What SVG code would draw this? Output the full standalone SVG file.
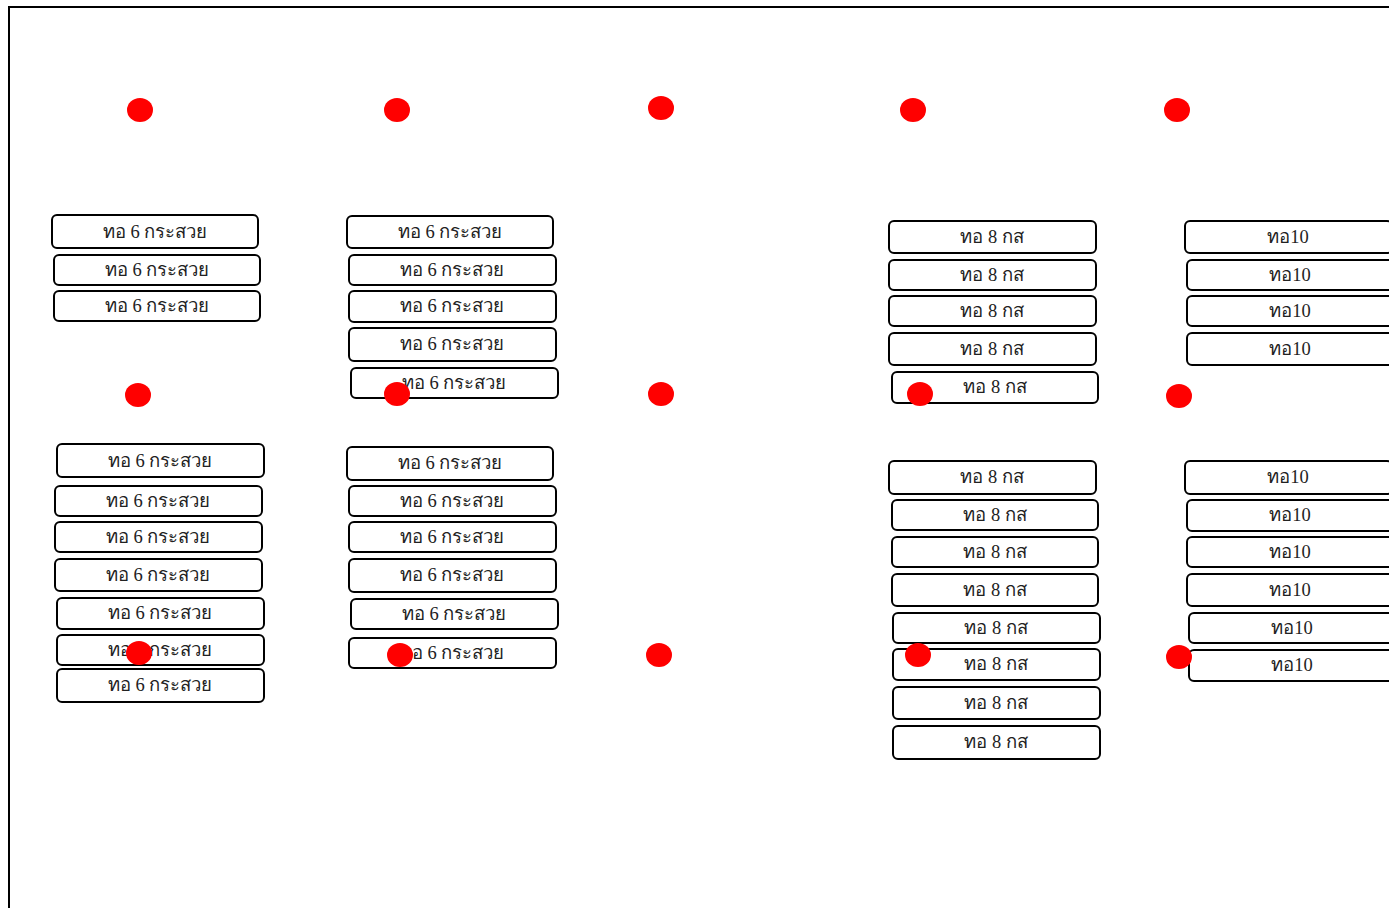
<svg xmlns="http://www.w3.org/2000/svg" width="1389" height="908" viewBox="0 0 1389 908">
<style>
.b rect{fill:#fff;stroke:#000;stroke-width:2}
.b text{font-family:"Liberation Serif","DejaVu Serif",serif;font-size:18.5px;fill:#222;text-anchor:middle;dominant-baseline:central}
.d{fill:#ff0000}
</style>
<rect x="0" y="0" width="1389" height="908" fill="#fff"/>
<path d="M9 908 V7 H1389" fill="none" stroke="#000" stroke-width="2"/>
<g id="col1">
<g class="b" id="n1"><rect x="52" y="215" width="206" height="33" rx="5"/><text x="155" y="232">ทอ 6 กระสวย</text></g>
<g class="b" id="n2"><rect x="54" y="255" width="206" height="30" rx="5"/><text x="157" y="270">ทอ 6 กระสวย</text></g>
<g class="b" id="n3"><rect x="54" y="291" width="206" height="30" rx="5"/><text x="157" y="306">ทอ 6 กระสวย</text></g>
<g class="b" id="n4"><rect x="57" y="444" width="207" height="33" rx="5"/><text x="160" y="461">ทอ 6 กระสวย</text></g>
<g class="b" id="n5"><rect x="55" y="486" width="207" height="30" rx="5"/><text x="158" y="501">ทอ 6 กระสวย</text></g>
<g class="b" id="n6"><rect x="55" y="522" width="207" height="30" rx="5"/><text x="158" y="537">ทอ 6 กระสวย</text></g>
<g class="b" id="n7"><rect x="55" y="559" width="207" height="32" rx="5"/><text x="158" y="575">ทอ 6 กระสวย</text></g>
<g class="b" id="n8"><rect x="57" y="598" width="207" height="31" rx="5"/><text x="160" y="613">ทอ 6 กระสวย</text></g>
<g class="b" id="n9"><rect x="57" y="635" width="207" height="30" rx="5"/><text x="160" y="650">ทอ 6 กระสวย</text></g>
<g class="b" id="n10"><rect x="57" y="669" width="207" height="33" rx="5"/><text x="160" y="685">ทอ 6 กระสวย</text></g>
</g>
<g id="col2">
<g class="b" id="n11"><rect x="347" y="216" width="206" height="32" rx="5"/><text x="450" y="232">ทอ 6 กระสวย</text></g>
<g class="b" id="n12"><rect x="349" y="255" width="207" height="30" rx="5"/><text x="452" y="270">ทอ 6 กระสวย</text></g>
<g class="b" id="n13"><rect x="349" y="291" width="207" height="31" rx="5"/><text x="452" y="306">ทอ 6 กระสวย</text></g>
<g class="b" id="n14"><rect x="349" y="328" width="207" height="33" rx="5"/><text x="452" y="344">ทอ 6 กระสวย</text></g>
<g class="b" id="n15"><rect x="351" y="368" width="207" height="30" rx="5"/><text x="454" y="383">ทอ 6 กระสวย</text></g>
<g class="b" id="n16"><rect x="347" y="447" width="206" height="33" rx="5"/><text x="450" y="463">ทอ 6 กระสวย</text></g>
<g class="b" id="n17"><rect x="349" y="486" width="207" height="30" rx="5"/><text x="452" y="501">ทอ 6 กระสวย</text></g>
<g class="b" id="n18"><rect x="349" y="522" width="207" height="30" rx="5"/><text x="452" y="537">ทอ 6 กระสวย</text></g>
<g class="b" id="n19"><rect x="349" y="559" width="207" height="33" rx="5"/><text x="452" y="575">ทอ 6 กระสวย</text></g>
<g class="b" id="n20"><rect x="351" y="599" width="207" height="30" rx="5"/><text x="454" y="614">ทอ 6 กระสวย</text></g>
<g class="b" id="n21"><rect x="349" y="638" width="207" height="30" rx="5"/><text x="452" y="653">ทอ 6 กระสวย</text></g>
</g>
<g id="col4">
<g class="b" id="n22"><rect x="889" y="221" width="207" height="32" rx="5"/><text x="992" y="237">ทอ 8 กส</text></g>
<g class="b" id="n23"><rect x="889" y="260" width="207" height="30" rx="5"/><text x="992" y="275">ทอ 8 กส</text></g>
<g class="b" id="n24"><rect x="889" y="296" width="207" height="30" rx="5"/><text x="992" y="311">ทอ 8 กส</text></g>
<g class="b" id="n25"><rect x="889" y="333" width="207" height="32" rx="5"/><text x="992" y="349">ทอ 8 กส</text></g>
<g class="b" id="n26"><rect x="892" y="372" width="206" height="31" rx="5"/><text x="995" y="387">ทอ 8 กส</text></g>
<g class="b" id="n27"><rect x="889" y="461" width="207" height="33" rx="5"/><text x="992" y="477">ทอ 8 กส</text></g>
<g class="b" id="n28"><rect x="892" y="500" width="206" height="30" rx="5"/><text x="995" y="515">ทอ 8 กส</text></g>
<g class="b" id="n29"><rect x="892" y="537" width="206" height="30" rx="5"/><text x="995" y="552">ทอ 8 กส</text></g>
<g class="b" id="n30"><rect x="892" y="574" width="206" height="32" rx="5"/><text x="995" y="590">ทอ 8 กส</text></g>
<g class="b" id="n31"><rect x="893" y="613" width="207" height="30" rx="5"/><text x="996" y="628">ทอ 8 กส</text></g>
<g class="b" id="n32"><rect x="893" y="649" width="207" height="31" rx="5"/><text x="996" y="664">ทอ 8 กส</text></g>
<g class="b" id="n33"><rect x="893" y="687" width="207" height="32" rx="5"/><text x="996" y="703">ทอ 8 กส</text></g>
<g class="b" id="n34"><rect x="893" y="726" width="207" height="33" rx="5"/><text x="996" y="742">ทอ 8 กส</text></g>
</g>
<g id="col5">
<g class="b" id="n35"><rect x="1185" y="221" width="207" height="32" rx="5"/><text x="1288" y="237">ทอ10</text></g>
<g class="b" id="n36"><rect x="1187" y="260" width="207" height="30" rx="5"/><text x="1290" y="275">ทอ10</text></g>
<g class="b" id="n37"><rect x="1187" y="296" width="207" height="30" rx="5"/><text x="1290" y="311">ทอ10</text></g>
<g class="b" id="n38"><rect x="1187" y="333" width="207" height="32" rx="5"/><text x="1290" y="349">ทอ10</text></g>
<g class="b" id="n39"><rect x="1185" y="461" width="207" height="33" rx="5"/><text x="1288" y="477">ทอ10</text></g>
<g class="b" id="n40"><rect x="1187" y="500" width="207" height="31" rx="5"/><text x="1290" y="515">ทอ10</text></g>
<g class="b" id="n41"><rect x="1187" y="537" width="207" height="30" rx="5"/><text x="1290" y="552">ทอ10</text></g>
<g class="b" id="n42"><rect x="1187" y="574" width="207" height="32" rx="5"/><text x="1290" y="590">ทอ10</text></g>
<g class="b" id="n43"><rect x="1189" y="613" width="207" height="30" rx="5"/><text x="1292" y="628">ทอ10</text></g>
<g class="b" id="n44"><rect x="1189" y="650" width="207" height="31" rx="5"/><text x="1292" y="665">ทอ10</text></g>
</g>
<g id="dots">
<ellipse class="d" cx="140" cy="110" rx="13" ry="12"/>
<ellipse class="d" cx="397" cy="110" rx="13" ry="12"/>
<ellipse class="d" cx="661" cy="108" rx="13" ry="12"/>
<ellipse class="d" cx="913" cy="110" rx="13" ry="12"/>
<ellipse class="d" cx="1177" cy="110" rx="13" ry="12"/>
<ellipse class="d" cx="138" cy="395" rx="13" ry="12"/>
<ellipse class="d" cx="397" cy="394" rx="13" ry="12"/>
<ellipse class="d" cx="661" cy="394" rx="13" ry="12"/>
<ellipse class="d" cx="920" cy="394" rx="13" ry="12"/>
<ellipse class="d" cx="1179" cy="396" rx="13" ry="12"/>
<ellipse class="d" cx="139" cy="653" rx="13" ry="12"/>
<ellipse class="d" cx="400" cy="655" rx="13" ry="12"/>
<ellipse class="d" cx="659" cy="655" rx="13" ry="12"/>
<ellipse class="d" cx="918" cy="655" rx="13" ry="12"/>
<ellipse class="d" cx="1179" cy="657" rx="13" ry="12"/>
</g>
</svg>
